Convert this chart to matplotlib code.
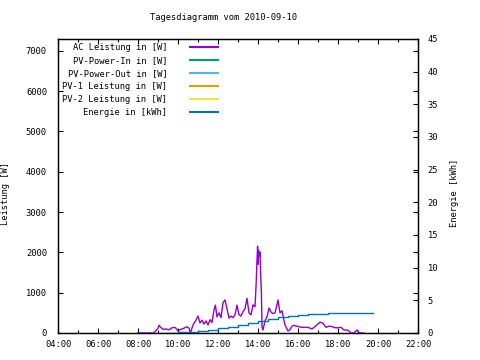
import matplotlib
matplotlib.use("Agg")
import matplotlib.pyplot as plt
from matplotlib.ticker import MultipleLocator, FuncFormatter

plt.rcParams['font.family'] = ['DejaVu Sans Mono']
plt.rcParams['font.size'] = 6.3

# Zeit in Stunden (dezimal) und AC Leistung in W
ac_zeit = [8.00, 8.25, 8.50, 8.75, 8.85, 9.00, 9.05, 9.15, 9.25, 9.40, 9.55, 9.70, 9.85,
           10.00, 10.10, 10.30, 10.45, 10.55, 10.62, 10.75, 10.90, 11.00, 11.10, 11.20,
           11.30, 11.40, 11.50, 11.60, 11.70, 11.80, 11.87, 11.95, 12.05, 12.15, 12.25,
           12.35, 12.45, 12.55, 12.65, 12.75, 12.85, 12.95, 13.05, 13.15, 13.25, 13.35,
           13.45, 13.55, 13.65, 13.75, 13.85, 13.90, 13.95, 13.98, 14.00, 14.03, 14.07,
           14.10, 14.13, 14.17, 14.20, 14.25, 14.35, 14.45, 14.55, 14.65, 14.75, 14.85,
           14.95, 15.00, 15.10, 15.20, 15.35, 15.50, 15.60, 15.70, 15.80, 16.00, 16.20,
           16.50, 16.70, 16.90, 17.10, 17.25, 17.40, 17.55, 17.70, 17.85, 18.00, 18.15,
           18.30, 18.50, 18.65, 18.80, 18.95, 19.05, 19.30]
ac_leistung = [0, 0, 0, 0, 30, 120, 190, 130, 90, 100, 80, 130, 140,
               50, 80, 120, 155, 120, 0, 200, 320, 420, 250, 320,
               220, 300, 200, 330, 260, 570, 690, 400, 500, 380, 750,
               820, 600, 370, 420, 380, 450, 690, 450, 420, 530, 600,
               860, 500, 450, 700, 650, 1140, 1800, 2150, 1700, 2050, 1900,
               2000, 1500, 1000, 150, 75, 300, 400, 620, 520, 480, 500,
               700, 820, 500, 550, 200, 50, 80, 170, 190, 160, 140,
               140, 100, 180, 270, 240, 140, 170, 160, 130, 130, 140,
               75, 70, 0, 0, 75, 0, 0]

# Energie in kWh
en_zeit = [9.0, 10.0, 10.6, 11.0, 11.5, 12.0, 12.5, 13.0, 13.5, 14.0, 14.5, 15.0,
           15.5, 16.0, 16.5, 17.0, 17.5, 18.0, 19.0, 19.73]
energie = [0.0, 0.1, 0.2, 0.3, 0.5, 0.7, 0.95, 1.2, 1.5, 1.85, 2.2, 2.45,
           2.65, 2.8, 2.85, 2.9, 3.0, 3.05, 3.06, 3.06]

farben = {"ac": "#9400d3", "pv_in": "#009e73", "pv_out": "#56b4e9",
          "pv1": "#e69f00", "pv2": "#f0e442", "energie": "#0072b2"}


def zeit_fmt(x, pos):
    return "{:02d}:00".format(int(round(x)))


fig = plt.figure(figsize=(4.8, 3.6), dpi=100)
ax = fig.add_axes([58 / 480, 27 / 360, 360 / 480, 294 / 360])
ax2 = ax.twinx()

l1, = ax.plot(ac_zeit, ac_leistung, color=farben["ac"], lw=1.0, label="AC Leistung in [W]")
l2, = ax.plot([], [], color=farben["pv_in"], label="PV-Power-In in [W]")
l3, = ax.plot([], [], color=farben["pv_out"], label="PV-Power-Out in [W]")
l4, = ax.plot([], [], color=farben["pv1"], label="PV-1 Leistung in [W]")
l5, = ax.plot([], [], color=farben["pv2"], label="PV-2 Leistung in [W]")
l6, = ax2.plot(en_zeit, energie, color=farben["energie"], lw=1.0, drawstyle="steps-post",
               label="Energie in [kWh]")

ax.set_xlim(4, 22)
ax.set_ylim(0, 7290)
ax2.set_ylim(0, 45)

ax.xaxis.set_major_locator(MultipleLocator(2))
ax.xaxis.set_minor_locator(MultipleLocator(1))
ax.xaxis.set_major_formatter(FuncFormatter(zeit_fmt))
ax.yaxis.set_major_locator(MultipleLocator(1000))
ax2.yaxis.set_major_locator(MultipleLocator(5))

ax.tick_params(which="both", direction="in", top=True, right=True, width=0.8)
ax.tick_params(which="major", length=3.5)
ax.tick_params(which="minor", length=2)
ax.tick_params(axis="y", pad=8)
ax.tick_params(axis="x", pad=5)
ax2.tick_params(direction="in", length=3.5, width=0.8, pad=7)

for a in (ax, ax2):
    for s in a.spines.values():
        s.set_linewidth(0.9)

ax.set_ylabel("Leistung [W]")
ax.yaxis.set_label_coords(-48 / 360, 0.476)
ax2.set_ylabel("Energie [kWh]")
ax2.yaxis.set_label_coords(1 + 32 / 360, 0.476)
fig.text(224 / 480, 1 - 18 / 360, "Tagesdiagramm vom 2010-09-10", ha="center", va="center")

leg = ax.legend(handles=[l1, l2, l3, l4, l5, l6], loc="upper left",
                bbox_to_anchor=(-0.005, 1.007), markerfirst=False, frameon=False,
                handlelength=3.2, handletextpad=2.6, labelspacing=0.45,
                borderaxespad=0.3)
for h in leg.legend_handles:
    h.set_linewidth(1.5)

fig.savefig("out.png", dpi=100)
